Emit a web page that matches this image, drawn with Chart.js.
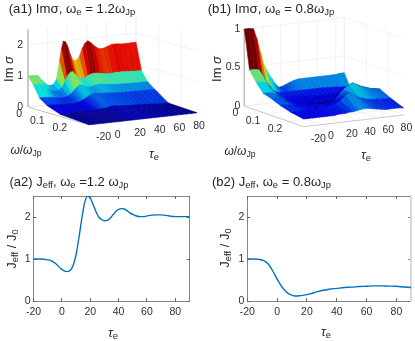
<!DOCTYPE html>
<html><head><meta charset="utf-8">
<script src="https://cdn.jsdelivr.net/npm/chart.js@4"></script>
<style>
html,body{margin:0;padding:0;background:#fff;width:415px;height:341px;overflow:hidden}
canvas{position:absolute;filter:blur(.3px)}
.t{position:absolute;font-family:"Liberation Sans",Arial,sans-serif;color:#262626;white-space:nowrap;line-height:1;transform:translate(-50%,-50%)}
.r{transform:translate(-50%,-50%) rotate(-90deg)}
.t sub{font-size:.72em;line-height:0;vertical-align:-.22em}
</style></head><body>
<canvas id="a1" width="208" height="170" style="left:0;top:0"></canvas>
<canvas id="b1" width="208" height="170" style="left:207px;top:0"></canvas>
<canvas id="a2" width="208" height="171" style="left:0;top:170px"></canvas>
<canvas id="b2" width="208" height="171" style="left:207px;top:170px"></canvas>

<div class="t" style="left:72px;top:9px;font-size:13.2px">(a1) Imσ, ω<sub>e</sub> = 1.2ω<sub>Jp</sub></div>
<div class="t" style="left:271px;top:9px;font-size:13.2px">(b1) Imσ, ω<sub>e</sub> = 0.8ω<sub>Jp</sub></div>
<div class="t" style="left:69px;top:181px;font-size:13px">(a2) J<sub>eff</sub>, ω<sub>e</sub> =1.2 ω<sub>Jp</sub></div>
<div class="t" style="left:271.5px;top:181px;font-size:13px">(b2) J<sub>eff</sub>, ω<sub>e</sub> = 0.8ω<sub>Jp</sub></div>

<div class="t r" style="left:8px;top:69px;font-size:13px">Im <i>σ</i></div>
<div class="t r" style="left:216px;top:69px;font-size:13px">Im <i>σ</i></div>
<div class="t" style="left:26px;top:150px;font-size:12px"><i>ω</i>/<i>ω</i><sub>Jp</sub></div>
<div class="t" style="left:240px;top:151px;font-size:12px"><i>ω</i>/<i>ω</i><sub>Jp</sub></div>
<div class="t" style="left:154px;top:153px;font-size:13px"><i>τ</i><sub>e</sub></div>
<div class="t" style="left:366px;top:154px;font-size:13px"><i>τ</i><sub>e</sub></div>
<div class="t r" style="left:11px;top:249px;font-size:13px">J<sub>eff</sub> / J<sub>0</sub></div>
<div class="t r" style="left:224px;top:248px;font-size:13px">J<sub>eff</sub> / J<sub>0</sub></div>
<div class="t" style="left:113px;top:332px;font-size:13px"><i>τ</i><sub>e</sub></div>
<div class="t" style="left:326px;top:331px;font-size:13px"><i>τ</i><sub>e</sub></div>

<script>
// ---------- data ----------
const tauTicks3D = [-20,0,20,40,60,80];
const omegaTicks3D = [0,0.1,0.2];
const zTicksA = [0,1,2];
const zTicksB = [0,0.5,1];

const tauA = [-20,-15,-10,-6,-3,0,3,6,9,12,14,16,18,20,23,26,29,32,35,38,41,44,48,52,56,60,65,70,75,80,85,90];
const omegaA = [0,0.024,0.051,0.084,0.143,0.27];
const imA0 = [1,1,.98,.82,.72,.64,.61,.64,.8,1.35,1.75,2.0,1.97,1.85,1.55,1.35,1.33,1.42,1.68,1.85,1.92,1.85,1.72,1.63,1.62,1.66,1.72,1.72,1.7,1.7,1.7,1.7];
const imA1 = [.76,.76,.74,.62,.54,.5,.48,.5,.58,.75,.88,.98,1.05,1.05,.95,.82,.78,.8,.86,.9,.92,.92,.9,.87,.86,.86,.87,.87,.86,.85,.84,.84];
const imA2 = [.4,.4,.39,.36,.35,.33,.33,.34,.36,.42,.48,.55,.62,.67,.68,.62,.58,.57,.6,.62,.63,.62,.6,.58,.57,.56,.56,.55,.55,.54,.54,.54];
const imA3 = [.23,.23,.22,.21,.2,.2,.19,.19,.2,.22,.24,.27,.3,.34,.4,.45,.45,.43,.42,.42,.42,.41,.4,.39,.38,.38,.37,.37,.37,.37,.37,.36];
const imA4 = [.07,.07,.07,.07,.07,.07,.07,.07,.07,.07,.07,.08,.08,.09,.1,.11,.13,.15,.15,.14,.13,.12,.11,.1,.1,.1,.09,.08,.07,.06,.05,.05];
const imA5 = [.01,.01,.01,.01,.01,.01,.01,.01,.01,.01,.01,.01,.01,.01,.01,.01,.01,.01,.01,.01,.01,.01,.01,.01,.01,.01,.01,.01,.01,.01,.01,.01];

const tauB = [-20,-15,-10,-6,-2,2,6,10,14,18,22,26,30,35,40,45,50,55,60,65,70,75,80,85,90];
const omegaB = [0,0.024,0.054,0.086,0.122,0.162,0.21,0.27];
const imB0 = [1,1,.99,.85,.66,.5,.4,.32,.24,.19,.2,.22,.24,.26,.27,.27,.27,.27,.27,.27,.27,.27,.27,.28,.28];
const imB1 = [.49,.49,.48,.41,.32,.24,.19,.16,.15,.15,.15,.15,.15,.15,.15,.15,.15,.15,.15,.145,.14,.14,.13,.13,.13];
const imB2 = [.36,.36,.35,.3,.24,.19,.16,.14,.13,.13,.12,.12,.11,.11,.11,.1,.1,.1,.1,.1,.1,.1,.1,.1,.1];
const imB3 = [.25,.25,.24,.21,.17,.14,.12,.11,.11,.1,.09,.08,.07,.06,.06,.05,.05,.05,.05,.05,.05,.05,.05,.05,.05];
const imB4 = [.22,.22,.21,.19,.16,.13,.11,.1,.1,.1,.09,.09,.08,.07,.07,.07,.08,.09,.09,.1,.1,.1,.1,.1,.1];
const imB5 = [.17,.17,.16,.15,.14,.13,.12,.12,.12,.12,.12,.12,.12,.13,.16,.22,.28,.33,.35,.32,.29,.27,.25,.24,.23];
const imB6 = [.13,.13,.13,.13,.13,.13,.13,.13,.14,.14,.14,.15,.17,.2,.26,.29,.26,.22,.2,.18,.17,.17,.16,.16,.16];
const imB7 = [.1,.1,.1,.1,.1,.1,.1,.1,.1,.11,.11,.11,.12,.12,.13,.14,.14,.13,.12,.11,.1,.1,.1,.1,.09];

const tauJa = [-20,-15,-10,-7,-4,-1,2,4,6,8,10,12,14,16,18,20,22,24,26,28,30,32,34,36,38,40,42,44,46,48,50,52,55,58,62,66,70,75,80,85,90];
const jeffA = [1,1,.98,.95,.88,.78,.71,.7,.73,.85,1.1,1.5,1.95,2.33,2.49,2.45,2.3,2.13,2,1.94,1.91,1.92,1.97,2.05,2.13,2.18,2.2,2.19,2.15,2.1,2.06,2.03,2.01,2.01,2.04,2.05,2.05,2.03,2.01,2.01,2.01];
const tauJb = [-20,-15,-12,-9,-6,-3,0,3,6,9,12,15,18,22,26,30,35,40,45,50,55,60,65,70,75,80,85,90];
const jeffB = [1,1,.99,.96,.88,.72,.52,.35,.22,.15,.12,.125,.14,.17,.21,.25,.28,.3,.32,.33,.345,.35,.36,.36,.355,.35,.335,.32];
const xTicks2D = [-20,0,20,40,60,80];
const yTicks2D = [0,1,2];

// ---------- 3D surface panels ----------
const clamp = v => Math.max(0, Math.min(1, v));
function jet(v, k){
  const u = clamp(v);
  const c = w => Math.round(255 * k * clamp(1.5 - Math.abs(4 * u - w)));
  return `rgb(${c(3)},${c(2)},${c(1)})`;
}
const polyFill = {
  id: 'polyFill',
  beforeDatasetDraw(chart, args){
    const ds = chart.data.datasets[args.index];
    if(!ds.polyColor) return;
    const pts = args.meta.data, ctx = chart.ctx;
    ctx.save(); ctx.beginPath();
    pts.forEach((p,i)=> i ? ctx.lineTo(p.x,p.y) : ctx.moveTo(p.x,p.y));
    ctx.closePath(); ctx.fillStyle = ds.polyColor; ctx.fill(); ctx.restore();
  }
};
function surface(id, cfg){
  const P = (t,w,z) => {
    const a = (t + 20) / 110, b = w / 0.27;
    return {x: cfg.o[0] + cfg.t[0]*a + cfg.w[0]*b, y: cfg.o[1] + cfg.t[1]*a + cfg.w[1]*b - cfg.z*z};
  };
  const line = (pts, color, width) => ({data: pts, showLine:true, borderColor:color, borderWidth:width, pointRadius:0, fill:false, tension:0});
  const ds = [];
  const grid = '#ececec', ax = '#bcbcbc';
  const wMax = 0.27, tMin = -20, tMax = 90;
  cfg.zTicks.forEach(z=>{
    ds.push(line([P(tMin,0,z),P(tMax,0,z),P(tMax,wMax,z)],grid,.7));
  });
  tauTicks3D.forEach(t=>{
    ds.push(line([P(t,wMax,0),P(t,0,0),P(t,0,cfg.zMax)],grid,.7));
  });
  omegaTicks3D.forEach(w=>{
    ds.push(line([P(tMin,w,0),P(tMax,w,0),P(tMax,w,cfg.zMax)],grid,.7));
  });
  ds.push(line([P(tMax,0,0),P(tMax,0,cfg.zMax)],grid,.7));
  ds.push(line([P(tMin,0,cfg.zMax),P(tMin,0,0),P(tMin,wMax,0),P(tMax,wMax,0)],ax,.8));
  const {tau, omega, rows, cMax} = cfg;
  for(let i=0;i<omega.length-1;i++){
    for(let j=tau.length-2;j>=0;j--){
      const q = [P(tau[j],omega[i],rows[i][j]),P(tau[j+1],omega[i],rows[i][j+1]),
                 P(tau[j+1],omega[i+1],rows[i+1][j+1]),P(tau[j],omega[i+1],rows[i+1][j])];
      const f = [P(tau[j],omega[i],0),P(tau[j+1],omega[i],0),P(tau[j+1],omega[i+1],0),P(tau[j],omega[i+1],0)];
      const area = p => p.reduce((s,a,n)=>{const b=p[(n+1)%4];return s+a.x*b.y-b.x*a.y;},0);
      const r = area(q)/area(f);
      const k = r <= 0 ? .05 : Math.min(.88, .05 + 3.2*r);
      const col = jet(((rows[i][j]+rows[i][j+1])/2)/cMax, k);
      const d = line([...q,q[0]],col,.6);
      d.polyColor = col;
      ds.push(d);
    }
  }
  const labels = {
    id:'labels3d',
    afterDraw(chart){
      const c = chart.ctx, sx = chart.scales.x, sy = chart.scales.y;
      c.save(); c.font = '10.5px "Liberation Sans"'; c.fillStyle = '#303030'; c.textBaseline='middle';
      const put = (s,p,dx,dy,al) => { c.textAlign = al; c.fillText(s, sx.getPixelForValue(p.x)+dx, sy.getPixelForValue(p.y)+dy); };
      cfg.zTicks.forEach(z=>put(String(z),P(tMin,0,z),cfg.zOff,0,'right'));
      omegaTicks3D.forEach(w=>put(String(w),P(tMin,w,0),-6,7.5,'right'));
      tauTicks3D.forEach(t=>put(String(t),P(t,wMax,0),t===-20?7:6,12,'left'));
      c.restore();
    }
  };
  ds.reverse();
  new Chart(document.getElementById(id),{
    type:'scatter',
    data:{datasets:ds},
    options:{responsive:false,animation:false,events:[],
      layout:{padding:0},
      plugins:{legend:{display:false},tooltip:{enabled:false}},
      scales:{
        x:{type:'linear',display:false,min:0,max:208},
        y:{type:'linear',display:false,min:0,max:170,reverse:true}
      }},
    plugins:[polyFill,labels]
  });
}
surface('a1',{o:[28,107],t:[108,-12],w:[61,18],z:31,zMax:2.5,zTicks:zTicksA,zOff:-5,
  tau:tauA,omega:omegaA,rows:[imA0,imA1,imA2,imA3,imA4,imA5],cMax:1.98});
surface('b1',{o:[37.3,106],t:[100,-11.7],w:[59.4,20.7],z:77,zMax:1,zTicks:zTicksB,zOff:-4,
  tau:tauB,omega:omegaB,rows:[imB0,imB1,imB2,imB3,imB4,imB5,imB6,imB7],cMax:1});

// ---------- 2D panels ----------
function curve(id, tau, y, left, right, edge){
  const tickFont = {family:'"Liberation Sans"',size:10.5};
  const tc = '#666';
  new Chart(document.getElementById(id),{
    type:'line',
    data:{datasets:[{data:tau.map((t,i)=>({x:t,y:y[i]})),borderColor:'#0072BD',borderWidth:1.4,pointRadius:0,tension:.4,cubicInterpolationMode:'monotone'}]},
    options:{responsive:false,animation:false,events:[],
      layout:{padding:{left:0,top:26,right:right,bottom:0}},
      plugins:{legend:{display:false},tooltip:{enabled:false}},
      scales:{
        x:{type:'linear',min:-20,max:90,position:'bottom',
          afterBuildTicks:s=>{s.ticks=xTicks2D.map(v=>({value:v}));},
          afterFit:s=>{s.height=40;},
          grid:{drawOnChartArea:false,tickLength:-3,color:tc},
          border:{color:tc,width:.8},
          ticks:{font:tickFont,color:'#303030',padding:8,maxRotation:0}},
        y:{type:'linear',min:0,max:2.5,position:'left',
          afterBuildTicks:s=>{s.ticks=yTicks2D.map(v=>({value:v}));},
          afterFit:s=>{s.width=left;},
          grid:{drawOnChartArea:false,tickLength:-3,color:tc},
          border:{color:tc,width:.8},
          ticks:{font:tickFont,color:'#303030',padding:6}},
        x2:{type:'linear',min:-20,max:90,position:'top',
          afterBuildTicks:s=>{s.ticks=xTicks2D.map(v=>({value:v}));},
          afterFit:s=>{s.height=0;},
          grid:{drawOnChartArea:false,tickLength:-3,color:tc},
          border:{color:tc,width:.8},
          ticks:{display:false}},
        y2:{type:'linear',min:0,max:2.5,position:'right',
          afterBuildTicks:s=>{s.ticks=yTicks2D.map(v=>({value:v}));},
          afterFit:s=>{s.width=0;},
          grid:{drawOnChartArea:false,tickLength:-3,color:tc},
          border:{color:edge||tc,width:edge?2:.8},
          ticks:{display:false}}
      }}
  });
}
curve('a2',tauJa,jeffA,33.5,18.5);
curve('b2',tauJb,jeffB,40.3,3.7,'#d9d9d9');
</script>
</body></html>
